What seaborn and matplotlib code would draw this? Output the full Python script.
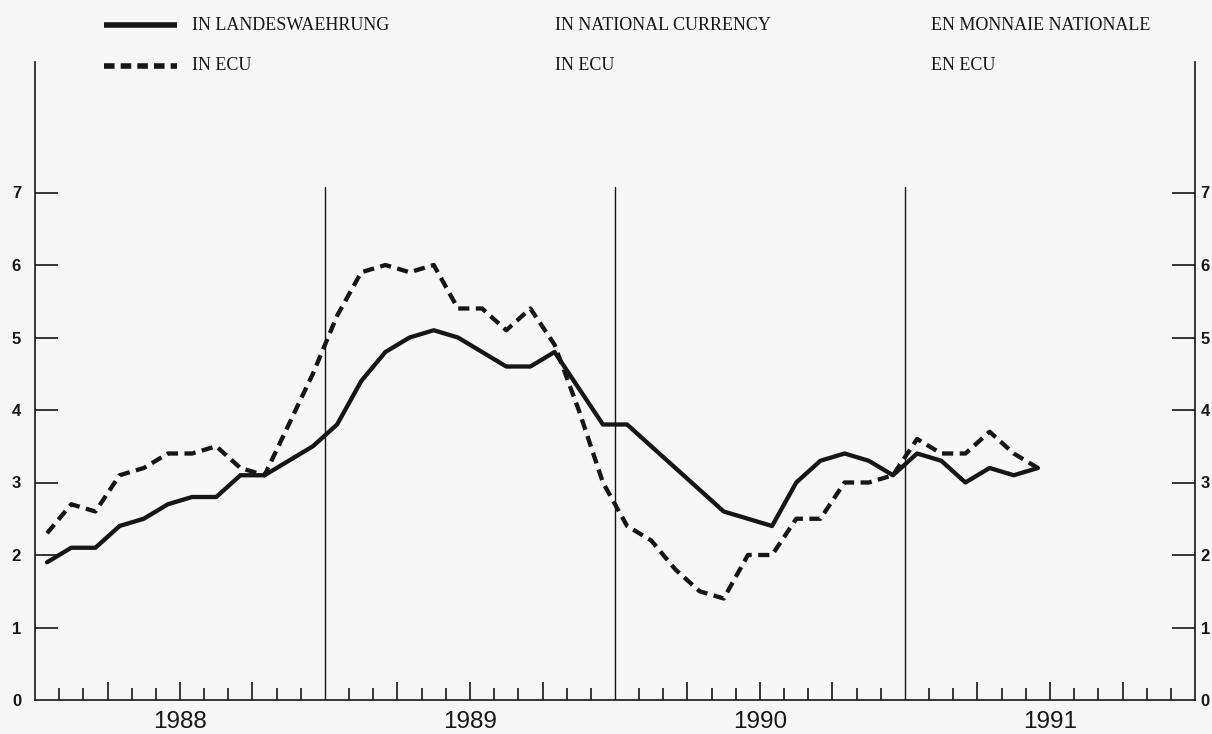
import numpy as np
import pandas as pd
import matplotlib
matplotlib.use("Agg")
import matplotlib.pyplot as plt
import matplotlib.transforms as mtransforms
from matplotlib.lines import Line2D
import seaborn as sns

# ---------------- data ----------------
years = ["1988", "1989", "1990", "1991"]
national = [1.9, 2.1, 2.1, 2.4, 2.5, 2.7, 2.8, 2.8, 3.1, 3.1, 3.3, 3.5,
            3.8, 4.4, 4.8, 5.0, 5.1, 5.0, 4.8, 4.6, 4.6, 4.8, 4.3, 3.8,
            3.8, 3.5, 3.2, 2.9, 2.6, 2.5, 2.4, 3.0, 3.3, 3.4, 3.3, 3.1,
            3.4, 3.3, 3.0, 3.2, 3.1, 3.2]
ecu = [2.3, 2.7, 2.6, 3.1, 3.2, 3.4, 3.4, 3.5, 3.2, 3.1, 3.8, 4.5,
       5.3, 5.9, 6.0, 5.9, 6.0, 5.4, 5.4, 5.1, 5.4, 4.9, 4.0, 3.0,
       2.4, 2.2, 1.8, 1.5, 1.4, 2.0, 2.0, 2.5, 2.5, 3.0, 3.0, 3.1,
       3.6, 3.4, 3.4, 3.7, 3.4, 3.2]
yticks = [0, 1, 2, 3, 4, 5, 6, 7]
legend_col1 = ["IN LANDESWAEHRUNG", "IN ECU"]
legend_col2 = ["IN NATIONAL CURRENCY", "IN ECU"]
legend_col3 = ["EN MONNAIE NATIONALE", "EN ECU"]

months = np.arange(len(national)) + 0.5
df = pd.DataFrame({
    "month": np.concatenate([months, months]),
    "value": national + ecu,
    "series": ["national"] * len(national) + ["ecu"] * len(ecu),
})

# ---------------- style ----------------
sns.set_style("white")
plt.rcParams["font.family"] = ["Liberation Serif", "DejaVu Serif"]
INK = "#161616"
BG = "#f7f7f8"
NUMFONT = ["Liberation Sans", "DejaVu Sans"]

fig = plt.figure(figsize=(12.12, 7.34), dpi=100, facecolor=BG)
W, H = 1212, 734
x0, x1, y0, y1 = 35, 1195, 700, 62
ax = fig.add_axes([x0 / W, 1 - y0 / H, (x1 - x0) / W, (y0 - y1) / H])
ax.set_facecolor(BG)

sns.lineplot(data=df, x="month", y="value", style="series",
             dashes={"national": "", "ecu": (2.6, 1.5)},
             color=INK, linewidth=3.1, legend=False, ax=ax,
             estimator=None, sort=False)

ax.set_xlim(0, 48)
ax.set_ylim(0, (y0 - y1) / 72.5)
ax.set_xlabel("")
ax.set_ylabel("")

# spines
for s in ["left", "right", "bottom"]:
    ax.spines[s].set_visible(True)
    ax.spines[s].set_color(INK)
    ax.spines[s].set_linewidth(1.2)
ax.spines["top"].set_visible(False)

# year dividers
for k in (12, 24, 36):
    ax.plot([k, k], [0, 7.07], color=INK, linewidth=1.0, zorder=1)

# y ticks both sides, inward
ax.set_yticks(yticks)
ax.set_yticklabels([str(v) for v in yticks])
ax.tick_params(axis="y", which="major", direction="in", length=16.5,
               width=1.2, color=INK, left=True, right=True,
               labelleft=True, labelright=True, pad=10)
offset_r = mtransforms.ScaledTranslation(-6 / 72, 0, fig.dpi_scale_trans)
for t in ax.yaxis.get_major_ticks():
    t.tick1line.set_visible(t.get_loc() != 0)
    t.tick2line.set_visible(t.get_loc() != 0)
    for lab in (t.label1, t.label2):
        lab.set_fontfamily(NUMFONT)
        lab.set_fontweight("bold")
        lab.set_fontsize(12)
        lab.set_color(INK)
    t.label2.set_transform(t.label2.get_transform() + offset_r)

# x ticks: quarters long, months short
quarters = [m for m in range(1, 48) if m % 3 == 0 and m % 12 != 0]
others = [m for m in range(1, 48) if m % 3 != 0]
ax.set_xticks(quarters)
ax.set_xticks(others, minor=True)
ax.set_xticklabels([])
ax.tick_params(axis="x", which="major", direction="in", length=13, width=1.2,
               color=INK, bottom=True, top=False)
ax.tick_params(axis="x", which="minor", direction="in", length=8.5, width=1.2,
               color=INK, bottom=True, top=False)

# year labels
trans = mtransforms.blended_transform_factory(ax.transData, ax.transAxes)
for i, yr in enumerate(years):
    ax.text(6 + 12 * i, -0.034, yr, transform=trans, ha="center", va="center",
            fontsize=17.5, color=INK, fontfamily=NUMFONT)

# legend (drawn in figure pixel coordinates)
def fx(px):
    return px / W

def fy(py):
    return 1 - py / H

fig.add_artist(Line2D([fx(104), fx(177)], [fy(25), fy(25)], color=INK,
                      linewidth=4.0, solid_capstyle="butt"))
fig.add_artist(Line2D([fx(104), fx(177)], [fy(66), fy(66)], color=INK,
                      linewidth=4.0, linestyle=(0, (1.9, 1.1))))

rows_y = [25, 66]
for col_x, texts in zip([192, 555, 931], [legend_col1, legend_col2, legend_col3]):
    for ry, txt in zip(rows_y, texts):
        fig.text(fx(col_x), fy(ry), txt, ha="left", va="center",
                 fontsize=13, color=INK)

fig.savefig("out.png", dpi=100, facecolor=BG)
